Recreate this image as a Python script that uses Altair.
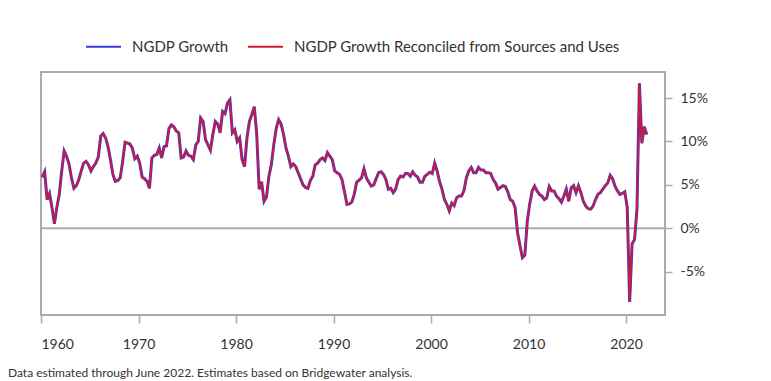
import altair as alt
import pandas as pd

# Year-over-year nominal GDP growth (%), quarterly
ngdp_1960s = [5.9, 6.5, 3.3, 4.0, 2.4, 0.5, 2.4, 3.9, 6.6, 8.9,
              8.3, 7.4, 5.8, 4.6, 4.9, 5.6, 6.6, 7.5, 7.7, 7.3,
              6.6, 7.1, 7.5, 8.2, 10.6, 10.9, 10.4, 9.4, 7.9, 6.2,
              5.4, 5.5, 5.8, 7.7, 9.9, 9.8, 9.7, 9.2, 8.0, 8.3]
ngdp_1970s = [7.5, 5.9, 5.7, 5.4, 4.6, 8.1, 8.4, 8.5, 9.25, 8.1,
              9.4, 9.5, 11.5, 11.9, 11.7, 11.2, 11.0, 8.1, 8.2, 8.9,
              8.4, 8.3, 7.9, 9.6, 10.0, 12.7, 12.3, 10.2, 9.6, 9.0,
              10.8, 12.3, 12.0, 11.0, 13.45, 13.2, 14.4, 14.8, 11.0, 11.35]
ngdp_1980s = [10.0, 10.4, 7.9, 7.1, 10.4, 12.3, 13.1, 14.0, 10.8, 4.5,
              5.35, 3.1, 3.6, 6.0, 7.3, 9.6, 11.5, 12.5, 12.0, 10.8,
              9.25, 8.3, 7.1, 7.4, 7.1, 6.4, 5.7, 5.0, 4.7, 4.6,
              5.5, 6.0, 7.3, 7.5, 7.9, 8.1, 7.8, 8.7, 8.3, 7.9]
ngdp_1990s = [6.6, 6.4, 6.2, 5.6, 4.2, 2.75, 2.8, 3.0, 3.9, 5.3,
              5.55, 5.8, 6.85, 5.8, 5.3, 4.85, 5.0, 5.7, 6.4, 6.5,
              6.2, 5.6, 4.5, 4.6, 4.1, 4.5, 5.6, 6.0, 5.9, 6.3,
              6.3, 6.0, 6.5, 6.1, 5.9, 5.3, 5.3, 6.0, 6.2]
ngdp_2000s = [6.45, 6.3, 7.5, 6.6, 5.4, 4.5, 3.3, 2.75, 2.0, 2.9,
              2.6, 3.5, 3.7, 3.7, 4.3, 5.8, 6.6, 7.0, 6.4, 6.4,
              7.0, 6.7, 6.7, 6.4, 6.4, 6.3, 5.6, 5.2, 4.5, 4.7,
              4.9, 4.8, 4.2, 3.3, 3.1, 2.4, -0.5, -2.0, -3.4, -3.1]
ngdp_2010s_on = [0.8, 2.8, 4.3, 4.85, 4.3, 3.9, 3.7, 3.3, 3.5, 4.8,
                 4.3, 4.3, 3.7, 3.4, 3.0, 3.7, 4.5, 3.1, 4.65, 4.9,
                 4.1, 4.9, 4.1, 3.1, 2.55, 2.25, 2.2, 2.55, 3.3, 3.9,
                 4.1, 4.5, 4.9, 5.2, 6.1, 5.7, 4.85, 4.3, 3.9, 4.0,
                 4.2, 2.4, -8.5, -1.8, -1.3, 2.2, 16.7, 9.8, 11.7, 10.8]

ngdp = ngdp_1960s + ngdp_1970s + ngdp_1980s + ngdp_1990s + ngdp_2000s + ngdp_2010s_on
reconciled = list(ngdp)  # the reconciled series lies on top of the headline series
start_year = 1960.125
years = [start_year + 0.25 * i for i in range(len(ngdp))]

S1 = "NGDP Growth"
S2 = "NGDP Growth Reconciled from Sources and Uses"
x_ticks = [1960, 1970, 1980, 1990, 2000, 2010, 2020]
y_ticks = [-5, 0, 5, 10, 15]
zero_level = [0]
footer = ["Data estimated through June 2022. Estimates based on Bridgewater analysis."]

n = len(ngdp)
df = pd.DataFrame({
    "year": years + years,
    "value": ngdp + reconciled,
    "series": [S1] * n + [S2] * n,
})

FONT = "Lato"
BLUE = "#3A3AE6"
RED = "#CE1B2E"
GRAY = "#ABABAB"
TXT = "#333333"

color = alt.Color(
    "series:N",
    scale=alt.Scale(domain=[S1, S2], range=[BLUE, RED]),
    legend=alt.Legend(
        title=None, orient="none", legendX=44, legendY=-44,
        direction="horizontal", symbolType="stroke", symbolSize=1225,
        symbolStrokeWidth=2, labelFontSize=15, labelFont=FONT,
        labelColor=TXT, labelOffset=10, columnPadding=15, padding=0,
        labelLimit=0,
    ),
)
x = alt.X(
    "year:Q",
    scale=alt.Scale(domain=[1960, 2024], nice=False, zero=False),
    axis=alt.Axis(values=x_ticks, format="d", title=None, grid=False,
                  domain=False, ticks=True, tickSize=8, tickColor=GRAY,
                  tickWidth=1.5, labelFontSize=14, labelFont=FONT,
                  labelColor=TXT, labelPadding=14),
)
y_axis = alt.Axis(orient="right", values=y_ticks, labelExpr="datum.value + '%'",
                  title=None, grid=False, domain=False, ticks=True, tickSize=7,
                  tickColor=GRAY, tickWidth=1.5, labelFontSize=14,
                  labelFont=FONT, labelColor=TXT, labelPadding=8)
y_scale = alt.Scale(domain=[-10, 18], nice=False, zero=False)
y = alt.Y("value:Q", scale=y_scale, axis=y_axis)

zero = alt.Chart(pd.DataFrame({"value": zero_level})).mark_rule(
    color=GRAY, strokeWidth=2
).encode(y=y)

blue = alt.Chart(df).transform_filter(alt.datum.series == S1).mark_line(
    strokeWidth=3
).encode(x=x, y=y, color=color)
red = alt.Chart(df).transform_filter(alt.datum.series == S2).mark_line(
    strokeWidth=1.8
).encode(x=x, y=y, color=color)

note = alt.Chart(pd.DataFrame({"t": footer})).mark_text(
    align="left", baseline="middle", fontSize=12, font=FONT, color=TXT
).encode(x=alt.value(-33), y=alt.value(301), text="t:N")

chart = alt.layer(zero, blue, red, note).properties(
    width=624, height=243,
    autosize=alt.AutoSizeParams(type="none"),
    padding={"left": 33, "top": 64, "right": 90, "bottom": 64},
).configure(font=FONT).configure_view(stroke=GRAY, strokeWidth=2)

chart.save("out.html", embed_options={"renderer": "svg", "actions": False})
